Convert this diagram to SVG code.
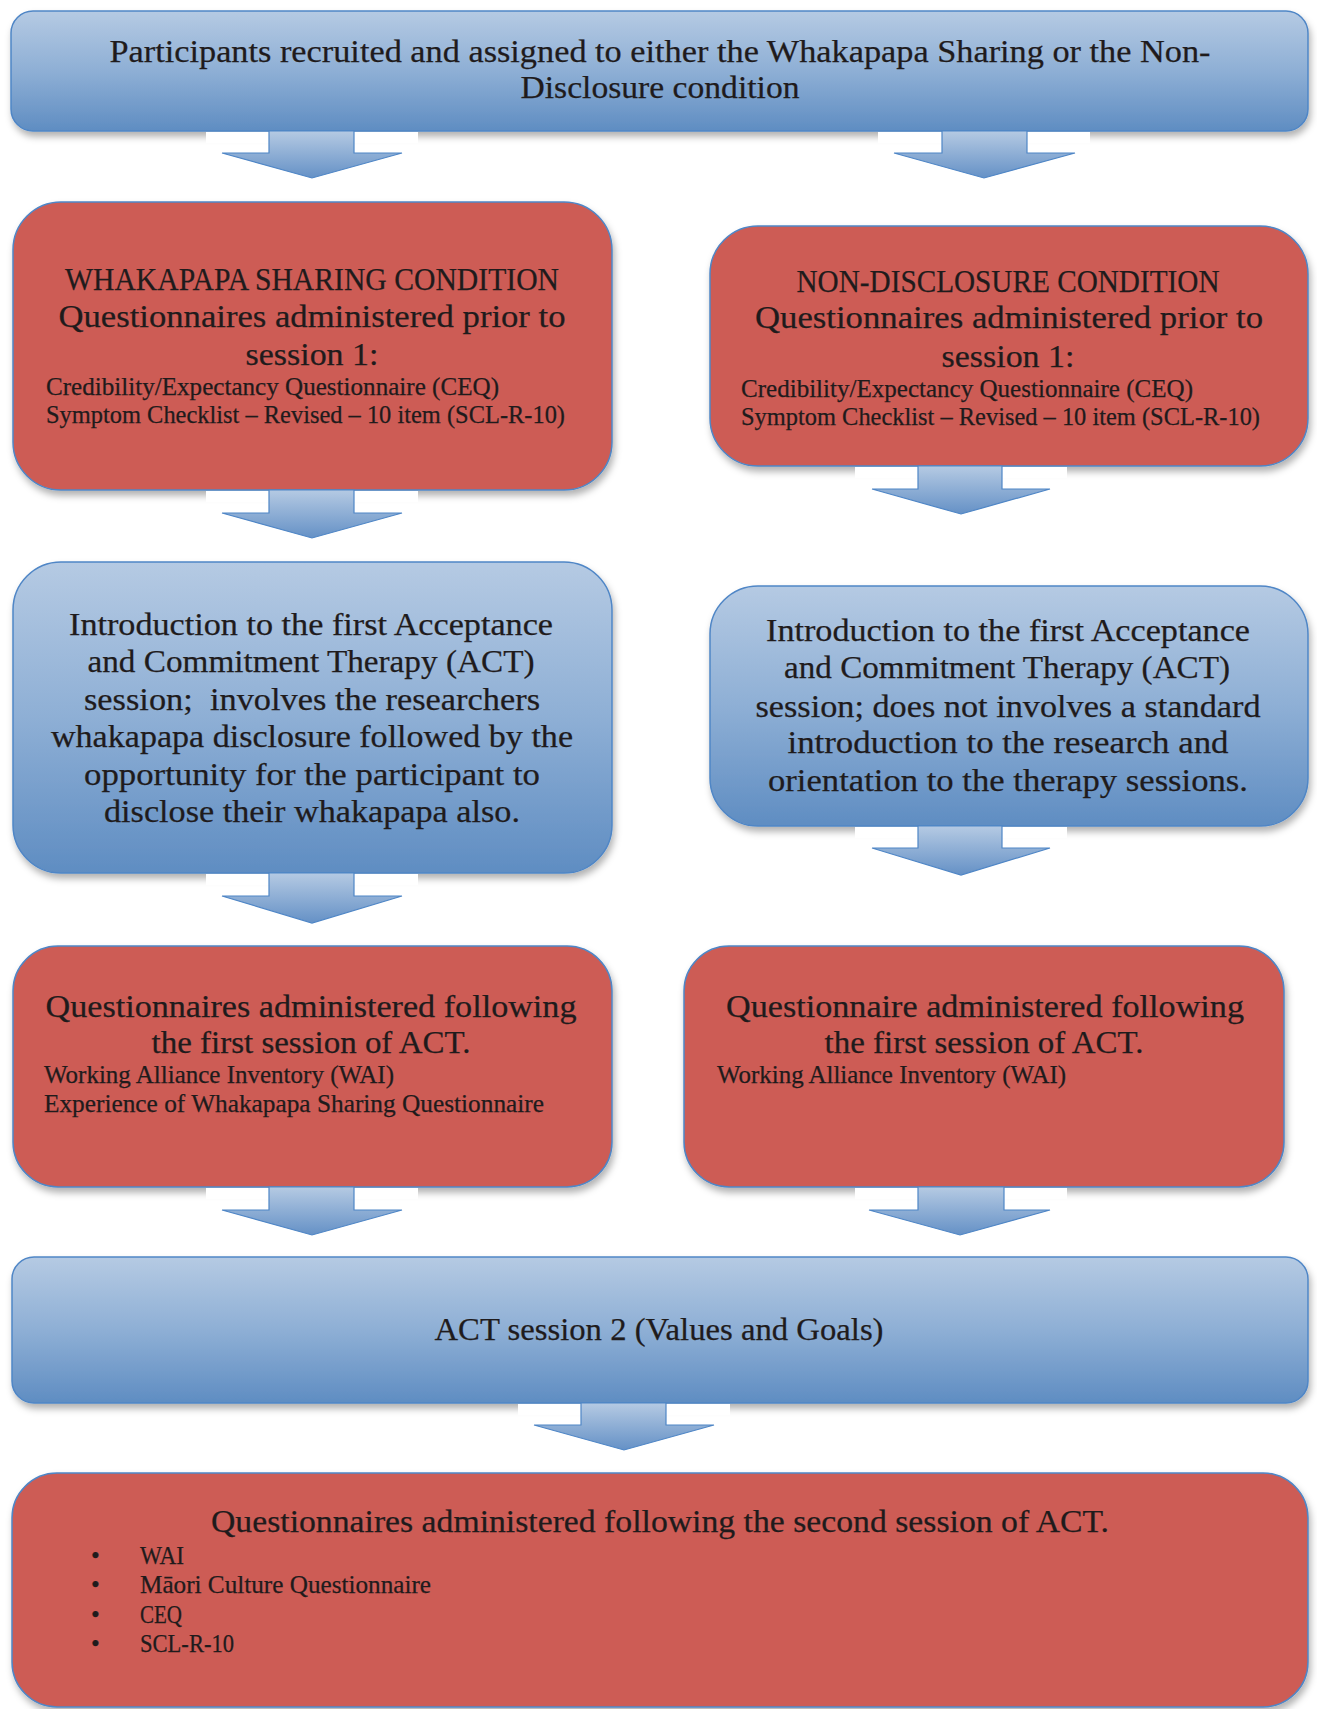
<svg xmlns="http://www.w3.org/2000/svg" width="1317" height="1709" viewBox="0 0 1317 1709">
<defs>
<linearGradient id="gBlue" x1="0" y1="0" x2="0" y2="1">
<stop offset="0" stop-color="#b5cae3"/>
<stop offset="0.5" stop-color="#8eafd5"/>
<stop offset="1" stop-color="#5f8dc2"/>
</linearGradient>
<linearGradient id="gArrow" x1="0" y1="0" x2="0" y2="1">
<stop offset="0" stop-color="#b5cae3"/>
<stop offset="1" stop-color="#6591c6"/>
</linearGradient>
<filter id="sh" x="-5%" y="-10%" width="115%" height="130%">
<feDropShadow dx="2" dy="5" stdDeviation="3.5" flood-color="#000" flood-opacity="0.3"/>
</filter>
</defs>
<style>
.blue{fill:url(#gBlue);stroke:#4f86c6;stroke-width:1.5;filter:url(#sh)}
.red{fill:#cd5c55;stroke:#4f86c6;stroke-width:1.5;filter:url(#sh)}
.arr{fill:url(#gArrow);stroke:#4f86c6;stroke-width:1.2}
.gap{fill:#fff}
text{font-family:"Liberation Serif","Times New Roman",serif;fill:#1f1b1c;stroke:#1f1b1c;stroke-width:0.25}
.L{font-size:32px;text-anchor:middle}
.S{font-size:25px}
</style>
<rect width="1317" height="1709" fill="#fff"/>

<g id="node-start">
<rect class="blue" x="11" y="11" width="1297" height="120" rx="22"/>
<text class="L" x="660" y="62" textLength="1101" lengthAdjust="spacingAndGlyphs">Participants recruited and assigned to either the Whakapapa Sharing or the Non-</text>
<text class="L" x="660" y="98" textLength="279" lengthAdjust="spacingAndGlyphs">Disclosure condition</text>
</g>

<g id="node-ws-pre">
<rect class="red" x="13" y="202" width="599" height="288" rx="48"/>
<text class="L" x="312" y="290" textLength="494" lengthAdjust="spacingAndGlyphs">WHAKAPAPA SHARING CONDITION</text>
<text class="L" x="312" y="327" textLength="507" lengthAdjust="spacingAndGlyphs">Questionnaires administered prior to</text>
<text class="L" x="312" y="365" textLength="133" lengthAdjust="spacingAndGlyphs">session 1:</text>
<text class="S" x="46" y="395" textLength="453" lengthAdjust="spacingAndGlyphs">Credibility/Expectancy Questionnaire (CEQ)</text>
<text class="S" x="46" y="423" textLength="519" lengthAdjust="spacingAndGlyphs">Symptom Checklist – Revised – 10 item (SCL-R-10)</text>
</g>

<g id="node-nd-pre">
<rect class="red" x="710" y="226" width="598" height="240" rx="48"/>
<text class="L" x="1008" y="292" textLength="423" lengthAdjust="spacingAndGlyphs">NON-DISCLOSURE CONDITION</text>
<text class="L" x="1009" y="328" textLength="508" lengthAdjust="spacingAndGlyphs">Questionnaires administered prior to</text>
<text class="L" x="1008" y="367" textLength="133" lengthAdjust="spacingAndGlyphs">session 1:</text>
<text class="S" x="741" y="397" textLength="452" lengthAdjust="spacingAndGlyphs">Credibility/Expectancy Questionnaire (CEQ)</text>
<text class="S" x="741" y="425" textLength="519" lengthAdjust="spacingAndGlyphs">Symptom Checklist – Revised – 10 item (SCL-R-10)</text>
</g>

<g id="node-ws-intro">
<rect class="blue" x="13" y="562" width="599" height="311" rx="48"/>
<text class="L" x="311" y="635" textLength="484" lengthAdjust="spacingAndGlyphs">Introduction to the first Acceptance</text>
<text class="L" x="311" y="672" textLength="447" lengthAdjust="spacingAndGlyphs">and Commitment Therapy (ACT)</text>
<text class="L" x="312" y="710" textLength="456" lengthAdjust="spacingAndGlyphs">session;&#160; involves the researchers</text>
<text class="L" x="312" y="747" textLength="522" lengthAdjust="spacingAndGlyphs">whakapapa disclosure followed by the</text>
<text class="L" x="312" y="785" textLength="456" lengthAdjust="spacingAndGlyphs">opportunity for the participant to</text>
<text class="L" x="312" y="822" textLength="416" lengthAdjust="spacingAndGlyphs">disclose their whakapapa also.</text>
</g>

<g id="node-nd-intro">
<rect class="blue" x="710" y="586" width="598" height="240" rx="48"/>
<text class="L" x="1008" y="641" textLength="484" lengthAdjust="spacingAndGlyphs">Introduction to the first Acceptance</text>
<text class="L" x="1007" y="678" textLength="446" lengthAdjust="spacingAndGlyphs">and Commitment Therapy (ACT)</text>
<text class="L" x="1008" y="717" textLength="505" lengthAdjust="spacingAndGlyphs">session; does not involves a standard</text>
<text class="L" x="1008" y="753" textLength="441" lengthAdjust="spacingAndGlyphs">introduction to the research and</text>
<text class="L" x="1008" y="791" textLength="480" lengthAdjust="spacingAndGlyphs">orientation to the therapy sessions.</text>
</g>

<g id="node-ws-post">
<rect class="red" x="13" y="946" width="599" height="241" rx="45"/>
<text class="L" x="311" y="1017" textLength="531" lengthAdjust="spacingAndGlyphs">Questionnaires administered following</text>
<text class="L" x="311" y="1053" textLength="319" lengthAdjust="spacingAndGlyphs">the first session of ACT.</text>
<text class="S" x="44" y="1083" textLength="350" lengthAdjust="spacingAndGlyphs">Working Alliance Inventory (WAI)</text>
<text class="S" x="44" y="1112" textLength="500" lengthAdjust="spacingAndGlyphs">Experience of Whakapapa Sharing Questionnaire</text>
</g>

<g id="node-nd-post">
<rect class="red" x="684" y="946" width="600" height="241" rx="45"/>
<text class="L" x="985" y="1017" textLength="518" lengthAdjust="spacingAndGlyphs">Questionnaire administered following</text>
<text class="L" x="984" y="1053" textLength="319" lengthAdjust="spacingAndGlyphs">the first session of ACT.</text>
<text class="S" x="717" y="1083" textLength="349" lengthAdjust="spacingAndGlyphs">Working Alliance Inventory (WAI)</text>
</g>

<g id="node-session2">
<rect class="blue" x="12" y="1257" width="1296" height="146" rx="22"/>
<text class="L" x="659" y="1340" textLength="449" lengthAdjust="spacingAndGlyphs">ACT session 2 (Values and Goals)</text>
</g>

<g id="node-final">
<rect class="red" x="12" y="1473" width="1296" height="234" rx="45"/>
<text class="L" x="660" y="1532" textLength="898" lengthAdjust="spacingAndGlyphs">Questionnaires administered following the second session of ACT.</text>
<text class="S" x="91" y="1564">•</text>
<text class="S" x="140" y="1564" textLength="44" lengthAdjust="spacingAndGlyphs">WAI</text>
<text class="S" x="91" y="1593">•</text>
<text class="S" x="140" y="1593" textLength="291" lengthAdjust="spacingAndGlyphs">Māori Culture Questionnaire</text>
<text class="S" x="91" y="1623">•</text>
<text class="S" x="140" y="1623" textLength="42" lengthAdjust="spacingAndGlyphs">CEQ</text>
<text class="S" x="91" y="1652">•</text>
<text class="S" x="140" y="1652" textLength="94" lengthAdjust="spacingAndGlyphs">SCL-R-10</text>
</g>

<g id="connectors">
<rect class="gap" x="206" y="132" width="212" height="11"/>
<polygon class="arr" points="269,131 354,131 354,153 402,153 312,178 222,153 269,153"/>
<rect class="gap" x="878" y="132" width="212" height="11"/>
<polygon class="arr" points="942,131 1027,131 1027,153 1075,153 984,178 894,153 942,153"/>
<rect class="gap" x="206" y="491" width="212" height="11"/>
<polygon class="arr" points="269,490 354,490 354,513 402,513 312,538 222,513 269,513"/>
<rect class="gap" x="855" y="467" width="212" height="11"/>
<polygon class="arr" points="918,466 1002,466 1002,489 1050,489 961,514 872,489 918,489"/>
<rect class="gap" x="206" y="874" width="212" height="11"/>
<polygon class="arr" points="269,873 354,873 354,896 402,896 312,923 222,896 269,896"/>
<rect class="gap" x="855" y="827" width="212" height="11"/>
<polygon class="arr" points="918,826 1002,826 1002,848 1050,848 961,875 872,848 918,848"/>
<rect class="gap" x="206" y="1188" width="212" height="11"/>
<polygon class="arr" points="269,1187 354,1187 354,1210 402,1210 312,1235 222,1210 269,1210"/>
<rect class="gap" x="855" y="1188" width="212" height="11"/>
<polygon class="arr" points="918,1187 1004,1187 1004,1210 1050,1210 960,1235 869,1210 918,1210"/>
<rect class="gap" x="518" y="1404" width="212" height="11"/>
<polygon class="arr" points="581,1403 666,1403 666,1425 714,1425 624,1450 534,1425 581,1425"/>
</g>
</svg>
